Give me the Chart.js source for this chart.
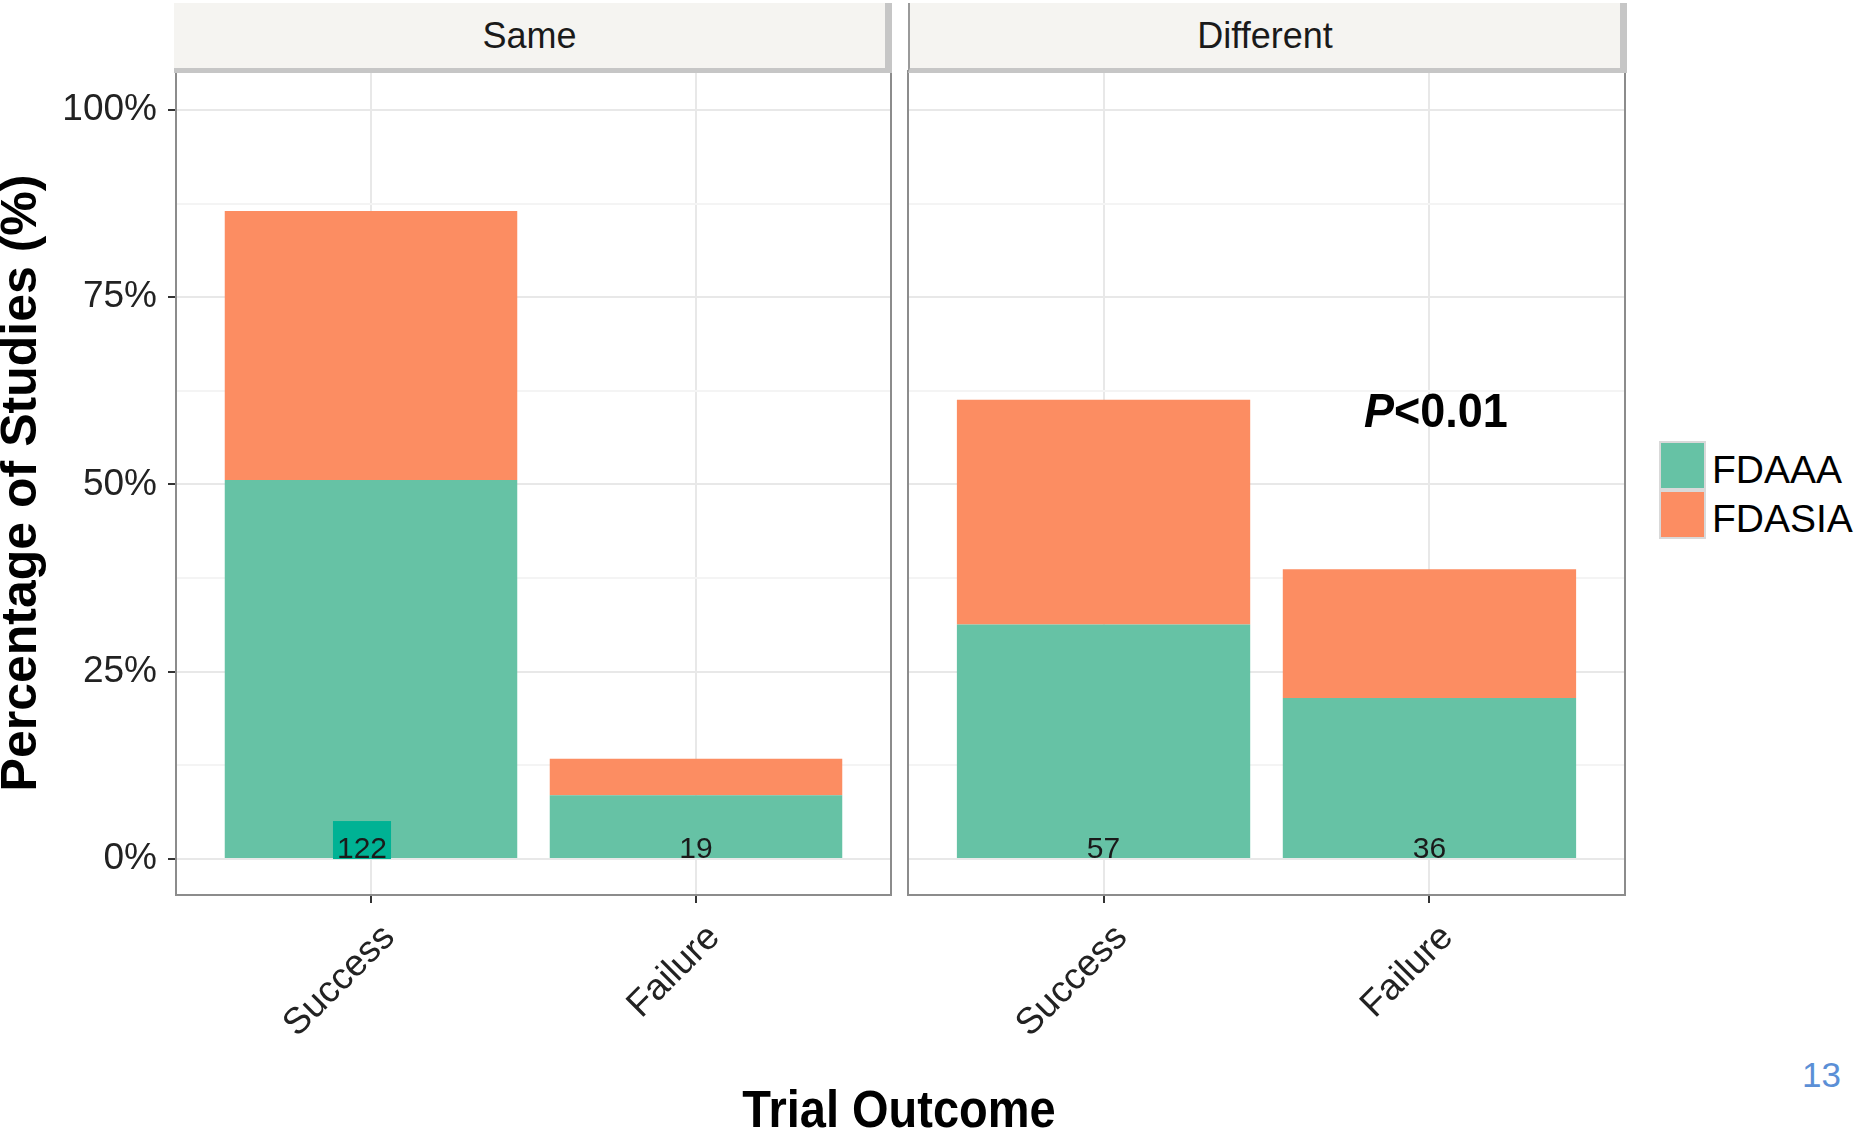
<!DOCTYPE html>
<html><head><meta charset="utf-8">
<script src="https://cdn.jsdelivr.net/npm/chart.js@4/dist/chart.umd.min.js"></script>
<style>
html,body{margin:0;padding:0;background:#fff;width:1854px;height:1131px;overflow:hidden;font-family:"Liberation Sans",Arial,sans-serif;}
canvas{position:absolute;}
.strip{position:absolute;top:3px;height:70px;box-sizing:border-box;background:#F5F4F1;border-right:7px solid #C6C6C6;border-bottom:5px solid #C6C6C6;font-size:36px;color:#1a1a1a;display:flex;align-items:center;justify-content:center;z-index:2;}
.txt{position:absolute;white-space:nowrap;z-index:3;}
.key{position:absolute;width:47px;height:49px;box-sizing:border-box;border:2px solid #D9D9D9;}
</style></head>
<body>
<canvas id="cA" width="897" height="1070" style="left:0;top:61px;"></canvas>
<canvas id="cB" width="731" height="1070" style="left:898px;top:61px;"></canvas>
<div class="strip" id="stripA" style="left:174px;width:718px;"></div>
<div class="strip" id="stripB" style="left:908px;width:719px;border-left:2px solid #9A9A9A;"></div>
<div id="legend"></div>
<div class="txt" id="pval" style="left:1364px;top:388px;font-size:45px;font-weight:bold;line-height:45px;transform:scaleY(1.08);color:#000;"><i>P</i>&lt;0.01</div>
<div class="txt" id="xtitle" style="left:899px;top:1085px;font-size:47px;font-weight:bold;line-height:47px;transform:translateX(-50%) scaleY(1.1);color:#000;"></div>
<div class="txt" id="pagenum" style="left:1802px;top:1057px;font-size:35px;line-height:35px;font-family:'Liberation Sans Narrow','Liberation Sans',Arial,sans-serif;color:#5B8FD6;">13</div>
<script>
// ---- data ----
const facets = ['Same', 'Different'];
const categories = ['Success', 'Failure'];
const seriesNames = ['FDAAA', 'FDASIA'];
const seriesColors = ['#66C2A5', '#FC8D62'];
// percentage of studies within each facet (segment heights, stacked)
const sameFDAAA = [50.6, 8.5];
const sameFDASIA = [35.9, 4.9];
const diffFDAAA = [31.3, 21.5];
const diffFDASIA = [30.0, 17.2];
// study counts shown at bar base
const sameCounts = [122, 19];
const diffCounts = [57, 36];
// axis ticks
const yTicks = [0, 25, 50, 75, 100];
const yMinorTicks = [12.5, 37.5, 62.5, 87.5];
const xTitle = 'Trial Outcome';
const yTitle = 'Percentage of Studies (%)';

Chart.defaults.font.family = '"Liberation Sans", Arial, sans-serif';
Chart.defaults.devicePixelRatio = 1;

document.getElementById('stripA').textContent = facets[0];
document.getElementById('stripB').textContent = facets[1];
document.getElementById('xtitle').textContent = xTitle;

// legend
const lg = document.getElementById('legend');
seriesNames.forEach((n, i) => {
  const k = document.createElement('div');
  k.className = 'key';
  k.style.left = '1659px';
  k.style.top = (441 + i * 49) + 'px';
  k.style.background = seriesColors[i];
  lg.appendChild(k);
  const t = document.createElement('div');
  t.className = 'txt';
  t.style.left = '1712px';
  t.style.top = (445 + i * 49) + 'px';
  t.style.fontSize = '39px';
  t.style.lineHeight = '49px';
  t.style.color = '#000';
  t.textContent = n;
  lg.appendChild(t);
});

const allYTicks = yTicks.concat(yMinorTicks).sort((a, b) => a - b);

const panelPlugin = {
  id: 'panel',
  afterDatasetsDraw(chart) {
    const {ctx, chartArea} = chart;
    const counts = chart.options.plugins.panel.counts;
    const yS = chart.scales.y;
    const meta = chart.getDatasetMeta(0);
    ctx.save();
    meta.data.forEach((bar, i) => {
      const txt = String(counts[i]);
      ctx.font = '30px "Liberation Sans", Arial, sans-serif';
      ctx.textAlign = 'center';
      ctx.textBaseline = 'alphabetic';
      const y0 = yS.getPixelForValue(0);
      let x = bar.x;
      if (chart.options.plugins.panel.highlight === i) {
        x -= 9;
        const w = ctx.measureText(txt).width;
        ctx.fillStyle = '#00B294';
        ctx.fillRect(x - w / 2 - 4, y0 - 38, w + 8, 38);
      }
      ctx.fillStyle = '#1a1a1a';
      ctx.fillText(txt, x, y0 - 1);
    });
    ctx.strokeStyle = '#8C8C8C';
    ctx.lineWidth = 2;
    ctx.strokeRect(chartArea.left, chartArea.top, chartArea.right - chartArea.left, chartArea.bottom - chartArea.top);
    ctx.restore();
  }
};

function makeChart(id, fdaaa, fdasia, counts, showY, pad, highlight) {
  const ds = [fdaaa, fdasia].map((vals, s) => ({
    label: seriesNames[s],
    data: vals.map((v, i) => ({x: i + 1, y: v})),
    backgroundColor: seriesColors[s],
    borderWidth: 0,
    categoryPercentage: 1,
    barPercentage: 0.9
  }));
  return new Chart(document.getElementById(id), {
    type: 'bar',
    data: {datasets: ds},
    plugins: [panelPlugin],
    options: {
      responsive: false,
      animation: false,
      layout: {padding: pad},
      plugins: {
        legend: {display: false},
        tooltip: {enabled: false},
        panel: {counts: counts, highlight: highlight}
      },
      scales: {
        x: {
          type: 'linear',
          stacked: true,
          min: 0.4, max: 2.6,
          offset: false,
          afterBuildTicks: (s) => { s.ticks = categories.map((c, i) => ({value: i + 1})); },
          afterFit: (s) => { s.height = 236; s.paddingLeft = 0; s.paddingRight = 0; },
          border: {display: false},
          grid: {offset: false, color: '#E8E8E8', lineWidth: 2, drawTicks: true, tickLength: 8, tickColor: '#333333', tickWidth: 2},
          ticks: {
            autoSkip: false, maxRotation: 45, minRotation: 45,
            padding: 13, labelOffset: 18,
            color: '#222222',
            font: {size: 37},
            callback: (v) => categories[v - 1] || ''
          }
        },
        y: {
          type: 'linear',
          stacked: true,
          min: -4.8, max: 105.2,
          afterBuildTicks: (s) => { s.ticks = allYTicks.map(v => ({value: v})); },
          afterFit: (s) => { s.width = showY ? 176 : 0; s.paddingTop = 0; s.paddingBottom = 0; },
          border: {display: false},
          grid: {
            color: (c) => yMinorTicks.includes(c.tick.value) ? '#F4F4F4' : '#E8E8E8',
            lineWidth: 2,
            drawTicks: showY, tickLength: 8, tickWidth: 2,
            tickColor: (c) => yMinorTicks.includes(c.tick.value) ? 'rgba(0,0,0,0)' : '#333333'
          },
          ticks: {
            display: showY,
            padding: 11,
            color: '#222222',
            font: {size: 37},
            callback: (v) => yTicks.includes(v) ? v + '%' : ''
          },
          title: {
            display: showY,
            text: yTitle,
            color: '#000',
            font: {size: 50, weight: 'bold', lineHeight: 0.9},
            padding: {top: 0, bottom: 0}
          }
        }
      }
    }
  });
}

makeChart('cA', sameFDAAA, sameFDASIA, sameCounts, true, {top: 10, right: 6, left: 0, bottom: 0}, 0);
makeChart('cB', diffFDAAA, diffFDASIA, diffCounts, false, {top: 10, right: 4, left: 10, bottom: 0}, -1);
</script>
</body></html>
